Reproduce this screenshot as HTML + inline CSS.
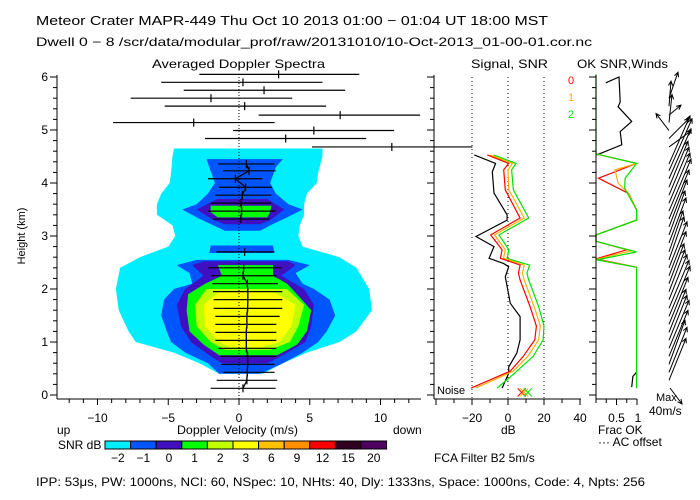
<!DOCTYPE html>
<html><head><meta charset="utf-8"><style>
html,body{margin:0;padding:0;background:#fff;}
svg{display:block;font-family:"Liberation Sans",sans-serif;}
text{fill:#000;}
</style></head><body>
<svg id="chart" width="700" height="500" viewBox="0 0 700 500" xmlns="http://www.w3.org/2000/svg">
<rect width="700" height="500" fill="#fff"/>
<text x="36" y="25" font-size="13" textLength="512" lengthAdjust="spacingAndGlyphs">Meteor Crater   MAPR-449   Thu Oct 10 2013 01:00 − 01:04 UT 18:00 MST</text>
<text x="36" y="46" font-size="12" textLength="556" lengthAdjust="spacingAndGlyphs">Dwell   0  −   8    /scr/data/modular_prof/raw/20131010/10-Oct-2013_01-00-01.cor.nc</text>
<text x="152" y="68" font-size="12" textLength="173" lengthAdjust="spacingAndGlyphs">Averaged Doppler Spectra</text>
<text x="471" y="68" font-size="12" textLength="77" lengthAdjust="spacingAndGlyphs">Signal, SNR</text>
<text x="577" y="68" font-size="12" textLength="91" lengthAdjust="spacingAndGlyphs">OK SNR,Winds</text>
<text x="568" y="84" font-size="11" style="fill:#ff0000">0</text>
<text x="568" y="101" font-size="11" style="fill:#ffb000">1</text>
<text x="568" y="118" font-size="11" style="fill:#00e000">2</text>
<g id="spec"></g>
<g id="sig"></g>
<g id="ok"></g>
<g id="wind"></g>
<g id="axes"></g>
<text transform="translate(25,236) rotate(-90)" text-anchor="middle" font-size="11">Height (km)</text>
<text x="57" y="434" font-size="12">up</text>
<text x="177" y="434" font-size="12" textLength="121" lengthAdjust="spacingAndGlyphs">Doppler Velocity (m/s)</text>
<text x="393" y="434" font-size="12">down</text>
<text x="501" y="434" font-size="12">dB</text>
<text x="598" y="434" font-size="12">Frac OK</text>
<text x="598" y="446" font-size="12">··· AC offset</text>
<text x="437" y="394" font-size="11">Noise</text>
<text x="656" y="401" font-size="11">Max</text>
<text x="649" y="415" font-size="12">40m/s</text>
<text x="58" y="449" font-size="12">SNR dB</text>
<g id="cbar"></g>
<text x="434" y="462" font-size="12">FCA Filter B2   5m/s</text>
<text x="36" y="486" font-size="12" textLength="609" lengthAdjust="spacingAndGlyphs">IPP:  53μs,  PW: 1000ns,  NCI:  60,  NSpec: 10, NHts: 40,  Dly: 1333ns,  Space: 1000ns,  Code: 4,  Npts: 256</text>
</svg>
<script>
const gateHeights=[0.126,0.277,0.428,0.579,0.73,0.881,1.031,1.182,1.333,1.484,1.635,1.799,1.95,2.1,2.25,2.4,2.55,2.7,2.87,3.02,3.17,3.32,3.47,3.62,3.77,3.92,4.08,4.23,4.36,4.53,4.68,4.84,4.99,5.14,5.28,5.45,5.6,5.75,5.9,6.05];
const meanVel=[0.28,0.56,0.59,0.61,0.61,0.52,0.52,0.52,0.56,0.56,0.61,0.63,0.63,0.59,0.28,0.33,null,0.40,null,null,null,0.12,0.19,0.14,0.24,0.47,-0.26,0.71,0.52,null,10.8,3.3,5.29,-3.2,7.15,0.4,-1.98,1.77,0.28,2.8];
const velLo=[-2.0,-1.58,-1.11,-1.25,-1.32,-1.44,-1.67,-1.67,-1.67,-1.67,-1.79,-1.79,-1.84,-1.88,-1.95,-2.2,null,-1.6,null,null,null,-1.84,-2.19,-1.98,-1.67,-1.41,-2.19,-1.13,-1.48,null,5.16,-2.4,-0.42,-8.9,1.39,-5.25,-7.65,-3.91,-5.5,-2.8];
const velHi=[2.59,2.7,2.52,2.52,2.64,2.64,2.64,2.64,2.64,2.87,3.06,3.06,3.06,2.75,2.64,3.0,null,2.5,null,null,null,2.16,2.59,2.28,2.28,2.35,1.65,2.59,2.52,null,16.5,8.99,10.96,2.52,12.8,6.16,3.76,7.5,5.9,8.5];
const snrLevels=["-2","-1","0","1","2","3","6","9","12","15","20"];
const levelColors=["#00eeff","#0055ff","#4010c0","#00ff00","#bfff00","#ffff00","#ffc000","#ff9000","#ff0000","#300020","#500060"];
const cyanH=[4.65,4.5,4.2,4.0,3.8,3.6,3.4,3.2,3.0,2.8,2.6,2.4,2.0,1.6,1.2,1.0,0.8,0.6,0.4];
const cyanLo=[-4.6,-4.7,-4.8,-4.9,-5.5,-5.8,-5.8,-4.7,-4.5,-5.0,-7.0,-8.4,-8.7,-8.5,-7.8,-7.3,-4.6,-2.8,-1.4];
const cyanHi=[5.9,5.9,5.6,5.5,4.8,4.6,4.6,4.3,4.2,4.5,7.1,8.3,9.2,9.4,8.3,7.1,4.8,3.1,1.7];
const blueTopH=[4.45,4.3,4.0,3.8,3.6,3.5,3.35,3.2,3.1];
const blueTopLo=[-2.3,-2.1,-1.7,-2.2,-3.0,-4.0,-3.0,-1.8,-1.0];
const blueTopHi=[3.1,2.6,2.2,2.6,3.5,4.5,3.4,2.2,1.5];
const blueMidH=[2.82,2.68];
const blueMidLo=[-2.0,-2.1];
const blueMidHi=[2.4,2.5];
const blueLowH=[2.55,2.45,2.3,2.1,2.0,1.8,1.5,1.2,1.0,0.8,0.6,0.4];
const blueLowLo=[-3.0,-4.4,-3.5,-3.3,-4.6,-5.3,-5.5,-5.1,-4.8,-3.8,-2.2,-1.4];
const blueLowHi=[3.5,5.0,4.0,4.5,5.3,6.4,6.8,6.2,5.6,4.5,3.1,1.5];
const purpTopH=[3.7,3.5,3.3,3.22];
const purpTopLo=[-1.5,-3.0,-1.8,-1.0];
const purpTopHi=[2.0,3.2,2.2,1.5];
const purpLowH=[2.52,2.45,2.25,2.0,1.7,1.3,1.0,0.75,0.6];
const purpLowLo=[-2.5,-3.3,-2.5,-3.8,-4.4,-4.1,-3.4,-2.1,-1.2];
const purpLowHi=[3.5,4.0,3.0,4.6,5.3,5.1,4.7,3.1,2.0];
const greenTopH=[3.57,3.45,3.35];
const greenTopLo=[-2.0,-2.0,-1.5];
const greenTopHi=[2.3,2.2,2.0];
const greenLowH=[2.45,2.25,2.1,1.9,1.6,1.2,0.95,0.75];
const greenLowLo=[-1.5,-1.2,-2.4,-3.6,-3.7,-3.5,-2.5,-1.4];
const greenLowHi=[2.4,2.4,3.4,4.1,5.1,4.8,4.1,2.7];
const ygH=[2.0,1.7,1.3,1.0,0.85];
const ygLo=[-2.3,-3.1,-3.0,-2.0,-1.0];
const ygHi=[3.4,4.6,4.2,3.6,2.2];
const yelH=[1.95,1.7,1.3,1.0,0.9];
const yelLo=[-1.4,-2.5,-2.4,-1.4,-0.6];
const yelHi=[2.4,4.0,3.7,2.9,1.6];
const sigH=[4.53,4.37,4.21,3.81,3.40,3.30,2.99,2.80,2.58,2.48,2.42,2.23,1.73,1.48,1.04,0.79,0.53,0.41,0.13];
const sigDb=[-18.7,-6.9,-8.7,-7.8,-0.5,-0.5,-17.8,-7.8,-10.5,-2.4,0.4,-1.5,1.3,6.7,6.7,4.9,0.4,0.4,-3.3];
const snrH=[4.53,4.37,4.25,3.87,3.34,3.02,2.74,2.58,2.45,2.30,2.17,1.67,1.30,1.04,0.73,0.45,0.13];
const snr0=[-11.5,0.4,-2.4,-1.5,6.7,-9.6,-3.3,-4.2,6.7,5.8,6.7,12.2,15.8,14.9,8.5,1.3,-20.5];
const snr1=[-10,2.5,0,0.5,9,-7.5,-1.5,-2.5,9,8,9,14.5,18,17,11,3,-18];
const snr2=[-8,4.5,2,3,11.5,-5,0.5,-0.5,12,10.5,11.5,17,20,19.5,14,5,-6];
const noiseDb=[7.6,9.0,11.0];
const okBlackH=[5.89,6.0,5.53,5.44,5.16,4.97,4.72,4.53];
const okBlackF=[0.24,0.56,0.59,0.54,0.87,0.59,0.63,0.02];
const okBlackLowH=[0.43,0.35,0.15];
const okBlackLowF=[0.99,0.9,0.87];
const ok2H=[6.05,4.55,4.37,4.09,3.90,3.49,3.30,3.02,2.90,2.70,2.55,2.41,0.13];
const ok2F=[0,0,0.99,0.71,0.70,0.99,0.99,0,0,0.99,0.02,0.99,0.99];
const ok0H=[4.55,4.37,4.09,3.80,3.49,3.30,3.02,2.90,2.74,2.57,2.41];
const ok0F=[0,0.99,0.06,0.8,0.99,0.99,0,0,0.75,0,0.99];
const ok1H=[4.55,4.37,4.25,4.0,3.80,3.49,3.30,3.02,2.90,2.72,2.56,2.41];
const ok1F=[0,0.99,0.46,0.54,0.8,0.99,0.99,0,0,0.85,0.01,0.99];
const windU=[null,34,36,32,38,40,36,34,38,42,40,36,32,30,34,36,30,28,34,32,36,40,44,42,40,38,44,46,42,null,44,40,-26,6,24,4,18,null,null,null];
const windV=[null,84,90,88,92,96,90,86,94,100,96,90,84,80,88,92,86,82,90,88,94,98,104,100,96,92,100,104,96,null,32,40,34,56,20,50,52,null,null,null];
const maxWind=[24,-32];

const NS="http://www.w3.org/2000/svg";
const vx=v=>239+v*14.15, hy=h=>395-h*53, dbx=d=>508+d*1.8, fx=f=>596+f*41;
function mk(parent,tag,attrs){const e=document.createElementNS(NS,tag);for(const k in attrs)e.setAttribute(k,attrs[k]);document.getElementById(parent).appendChild(e);return e;}

const blobs=[[0,cyanH,cyanLo,cyanHi],[1,blueTopH,blueTopLo,blueTopHi],[1,blueMidH,blueMidLo,blueMidHi],[1,blueLowH,blueLowLo,blueLowHi],[2,purpTopH,purpTopLo,purpTopHi],[2,purpLowH,purpLowLo,purpLowHi],[3,greenTopH,greenTopLo,greenTopHi],[3,greenLowH,greenLowLo,greenLowHi],[4,ygH,ygLo,ygHi],[5,yelH,yelLo,yelHi]];
blobs.forEach(b=>{
  const pts=[];
  b[1].forEach((h,i)=>pts.push(vx(b[2][i]).toFixed(1)+","+hy(h).toFixed(1)));
  for(let i=b[1].length-1;i>=0;i--)pts.push(vx(b[3][i]).toFixed(1)+","+hy(b[1][i]).toFixed(1));
  const p=mk("spec","polygon",{points:pts.join(" "),fill:levelColors[b[0]]});
  
  
});
const zl=mk("spec","line",{x1:vx(0),y1:77,x2:vx(0),y2:399,stroke:"#000","stroke-width":1,"stroke-dasharray":"1,2"});


let seg=[];const segs=[];
gateHeights.forEach((h,i)=>{
  if(meanVel[i]===null||i>=30){if(seg.length)segs.push(seg);seg=[];}
  else seg.push(vx(meanVel[i]).toFixed(1)+","+hy(h).toFixed(1));
  if(meanVel[i]!==null){
    const l=mk("spec","line",{x1:vx(velLo[i]),y1:hy(h),x2:vx(velHi[i]),y2:hy(h),stroke:"#000","stroke-width":1.2});
    
    
    const t=mk("spec","line",{x1:vx(meanVel[i]),y1:hy(h)-4,x2:vx(meanVel[i]),y2:hy(h)+4,stroke:"#000","stroke-width":1.2});
    
    
  }
});
if(seg.length)segs.push(seg);
segs.forEach(s=>{const p=mk("spec","polyline",{points:s.join(" "),fill:"none",stroke:"#000","stroke-width":1.2});
  
  });

[-20,0,20].forEach(d=>{const l=mk("sig","line",{x1:dbx(d),y1:77,x2:dbx(d),y2:399,stroke:"#000","stroke-width":1,"stroke-dasharray":"1,3"});
  
  });
function poly(g,H,X,sx,col,name){const pts=H.map((h,i)=>sx(X[i]).toFixed(1)+","+hy(h).toFixed(1)).join(" ");
  const p=mk(g,"polyline",{points:pts,fill:"none",stroke:col,"stroke-width":1.2});
  
  }
poly("sig",sigH,sigDb,dbx,"#000","signal-line");
poly("sig",snrH,snr2,dbx,"#00e000","snr-line-2");
poly("sig",snrH,snr1,dbx,"#ffb000","snr-line-1");
poly("sig",snrH,snr0,dbx,"#ff0000","snr-line-0");
const nc=["#ff0000","#ffb000","#00e000"];
noiseDb.forEach((d,i)=>{const x=dbx(d),y=hy(0.05);
  const p=mk("sig","path",{d:`M${x-4},${y-4}L${x+4},${y+4}M${x-4},${y+4}L${x+4},${y-4}`,stroke:nc[i],"stroke-width":1});
  
  });

poly("ok",okBlackH,okBlackF,fx,"#000","ok-snr-line");
poly("ok",okBlackLowH,okBlackLowF,fx,"#000","ok-snr-line-low");
poly("ok",ok0H,ok0F,fx,"#ff0000","frac-ok-0");
poly("ok",ok1H,ok1F,fx,"#ffb000","frac-ok-1");
poly("ok",ok2H,ok2F,fx,"#00e000","frac-ok-2");

function arrow(x0,y0,u,v,name){const s=0.5,x1=x0+u*s,y1=y0-v*s;const a=Math.atan2(y1-y0,x1-x0);
  const hx1=x1-5*Math.cos(a-0.45),hy1=y1-5*Math.sin(a-0.45),hx2=x1-5*Math.cos(a+0.45),hy2=y1-5*Math.sin(a+0.45);
  const p=mk("wind","path",{d:`M${x0},${y0}L${x1},${y1}M${hx1},${hy1}L${x1},${y1}L${hx2},${hy2}`,stroke:"#000","stroke-width":1,fill:"none"});
  
  }
gateHeights.forEach((h,i)=>{if(windU[i]!==null)arrow(669,hy(h),windU[i],windV[i],'wind-arrow');});
arrow(670,388,maxWind[0],maxWind[1],'max-wind-arrow');

function line(x1,y1,x2,y2,name){const l=mk("axes","line",{x1,y1,x2,y2,stroke:"#000","stroke-width":1});
  
  }
function txt(x,y,s,anchor,name){const t=mk("axes","text",{x,y,"font-size":12,"text-anchor":anchor});t.textContent=s;
  
  }
[[57,"main"],[434,"signal"],[596,"ok"]].forEach(([ax,nm])=>{
  line(ax,75,ax,399,nm+'-y-axis');
  for(let k=0;k<=30;k++){const h=k*0.2,y=hy(h),major=k%5===0;line(major?ax-7:ax-4,y,ax,y,'y-tick');}
});
[0,1,2,3,4,5,6].forEach(h=>txt(48,hy(h)+4,String(h),"end",'y-tick-label'));
line(57,399,421,399,'x-axis');
for(let v=-12;v<=12;v++){line(vx(v),399,vx(v),v%5===0?405:403,'x-tick');}
[-10,-5,0,5,10].forEach(v=>txt(vx(v),422,v<0?"−"+(-v):String(v),"middle",'x-tick-label'));
line(434,399,581,399,'db-axis');
for(let d=-40;d<=40;d+=10){if(dbx(d)>=434)line(dbx(d),399,dbx(d),d%20===0?405:403,'db-tick');}
[-20,0,20,40].forEach(d=>txt(dbx(d),422,d<0?"−"+(-d):String(d),"middle",'db-tick-label'));
line(596,399,637,399,'frac-axis');
[0,0.25,0.5,0.75,1].forEach(f=>line(fx(f),399,fx(f),f===0.5||f===1?405:403,'frac-tick'));
txt(fx(0.5),422,"0.5","middle",'frac-tick-label');txt(fx(1)+1,422,"1","middle",'frac-tick-label');

snrLevels.forEach((lab,i)=>{const x=105+i*25.6;
  const r=mk("cbar","rect",{x,y:441,width:25.6,height:8,fill:levelColors[i],stroke:"#000","stroke-width":1});
  
  
  const t=mk("cbar","text",{x:x+12.8,y:462,"font-size":12,"text-anchor":"middle"});t.textContent=lab.replace("-","−");
  
  });
</script>
</body></html>
